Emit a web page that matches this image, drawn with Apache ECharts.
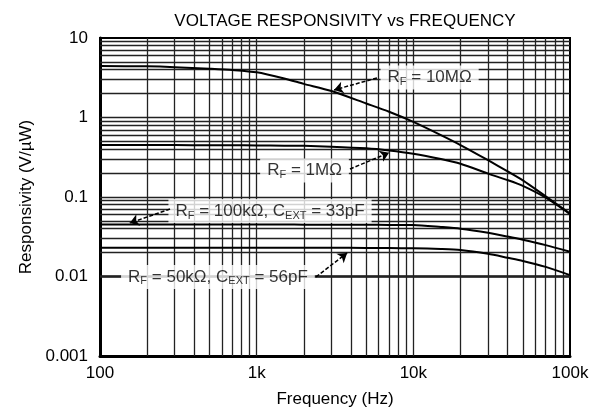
<!DOCTYPE html>
<html>
<head>
<meta charset="utf-8">
<script src="https://cdn.jsdelivr.net/npm/echarts@6/dist/echarts.min.js"></script>
<style>
  html, body { margin: 0; padding: 0; background: #fff; }
  #chart { width: 597px; height: 413px; }
</style>
</head>
<body>
<div id="chart"></div>
<script>
// Frequency samples (Hz) shared by all responsivity curves
const freqHz = [100, 200, 300, 500, 700, 1000, 1500, 2000, 3000, 5000, 7000, 10000, 15000, 20000, 30000, 40000, 50000, 70000, 100000];

// Voltage responsivity (V/µW) for each feedback configuration
const rf10M  = [4.45, 4.4, 4.3, 4.1, 3.95, 3.7, 3.1, 2.65, 2.15, 1.5, 1.18, 0.88, 0.6, 0.45, 0.29, 0.21, 0.162, 0.102, 0.062];
const rf1M   = [0.45, 0.45, 0.45, 0.448, 0.447, 0.445, 0.442, 0.44, 0.43, 0.41, 0.385, 0.35, 0.3, 0.262, 0.197, 0.163, 0.138, 0.098, 0.061];
const rf100k = [0.045, 0.045, 0.045, 0.045, 0.045, 0.045, 0.045, 0.0449, 0.0448, 0.0447, 0.0446, 0.0444, 0.042, 0.040, 0.0355, 0.0318, 0.029, 0.0248, 0.0205];
const rf50k  = [0.023, 0.023, 0.023, 0.023, 0.023, 0.023, 0.023, 0.023, 0.023, 0.0229, 0.0228, 0.0226, 0.0222, 0.0216, 0.0193, 0.0172, 0.0157, 0.0132, 0.0104];

// Axis tick labels (one per decade)
const xTickLabels = ['100', '1k', '10k', '100k'];
const yTickLabels = ['0.001', '0.01', '0.1', '1', '10'];

// Log-paper grid lines (1..9 within each decade)
const xGridLines = [200, 300, 400, 500, 600, 700, 800, 900, 1000, 2000, 3000, 4000, 5000, 6000, 7000, 8000, 9000, 10000, 20000, 30000, 40000, 50000, 60000, 70000, 80000, 90000];
const yGridLines = [0.002, 0.003, 0.004, 0.005, 0.006, 0.007, 0.008, 0.009, 0.01, 0.02, 0.03, 0.04, 0.05, 0.06, 0.07, 0.08, 0.09, 0.1, 0.2, 0.3, 0.4, 0.5, 0.6, 0.7, 0.8, 0.9, 1, 2, 3, 4, 5, 6, 7, 8, 9];

// Curve callouts: text, anchor (Hz, V/µW) and leader from/to points
const calloutText = [
  '{r|R}{s|F}{r| = 10MΩ}',
  '{r|R}{s|F}{r| = 1MΩ}',
  '{r|R}{s|F}{r| = 100kΩ, C}{s|EXT}{r| = 33pF}',
  '{r|R}{s|F}{r| = 50kΩ, C}{s|EXT}{r| = 56pF}'
];
const calloutAnchor = [[12700, 3.18], [2020, 0.2154], [1217, 0.0667], [566, 0.00987]];
const leaderFrom = [[5860, 3.14], [3940, 0.225], [280, 0.0706], [2390, 0.00987]];
const leaderTo   = [[3120, 2.22], [7000, 0.36], [155, 0.0471], [3780, 0.0198]];

const FONT = '"Liberation Sans", Arial, Helvetica, sans-serif';
const ink = '#000';

const zip = (xs, ys) => xs.map((x, i) => [x, ys[i]]);

const curve = (name, values) => ({
  name,
  type: 'line',
  data: zip(freqHz, values),
  smooth: 0.25,
  symbol: 'none',
  z: 6,
  lineStyle: { color: ink, width: 2 },
  silent: true,
  animation: false
});

const gridLineStyle = { color: '#222', width: 1.3, type: 'solid' };

const chart = echarts.init(document.getElementById('chart'), null, { renderer: 'canvas' });

chart.setOption({
  backgroundColor: '#fff',
  animation: false,
  title: {
    text: 'VOLTAGE RESPONSIVITY vs FREQUENCY',
    left: 340,
    top: 8,
    textAlign: 'center',
    textStyle: { fontFamily: FONT, fontSize: 17, fontWeight: 'normal', color: ink }
  },
  grid: {
    left: 100, right: 27, top: 38, bottom: 57,
    show: true, borderColor: ink, borderWidth: 2, backgroundColor: '#fff'
  },
  xAxis: {
    type: 'log',
    logBase: 10,
    min: 100,
    max: 100000,
    name: 'Frequency (Hz)',
    nameLocation: 'middle',
    nameGap: 35,
    nameTextStyle: { fontFamily: FONT, fontSize: 17, color: ink },
    axisLine: { show: true, onZero: false, lineStyle: { color: ink, width: 3 } },
    axisTick: { show: false },
    splitLine: { show: false },
    axisLabel: {
      fontFamily: FONT, fontSize: 17, color: ink, margin: 9,
      formatter: v => xTickLabels[Math.round(Math.log10(v)) - 2]
    }
  },
  yAxis: {
    type: 'log',
    logBase: 10,
    min: 0.001,
    max: 10,
    name: 'Responsivity (V/µW)',
    nameLocation: 'middle',
    nameGap: 62,
    nameRotate: 90,
    nameTextStyle: { fontFamily: FONT, fontSize: 17, color: ink },
    axisLine: { show: true, onZero: false, lineStyle: { color: ink, width: 3 } },
    axisTick: { show: false },
    splitLine: { show: false },
    axisLabel: {
      fontFamily: FONT, fontSize: 17, color: ink, margin: 12,
      formatter: v => yTickLabels[Math.round(Math.log10(v)) + 3]
    }
  },
  series: [
    {
      name: 'grid',
      type: 'line',
      data: [],
      z: 1,
      silent: true,
      markLine: {
        z: 1,
        silent: true,
        symbol: 'none',
        label: { show: false },
        lineStyle: gridLineStyle,
        animation: false,
        data: [
          ...xGridLines.map(v => ({ xAxis: v })),
          ...yGridLines.map(v => ({ yAxis: v }))
        ]
      }
    },
    curve('RF = 10MΩ', rf10M),
    curve('RF = 1MΩ', rf1M),
    curve('RF = 100kΩ, CEXT = 33pF', rf100k),
    curve('RF = 50kΩ, CEXT = 56pF', rf50k),
    {
      name: 'callouts',
      type: 'scatter',
      z: 4,
      silent: true,
      symbol: 'circle',
      symbolSize: 1,
      itemStyle: { color: 'rgba(255,255,255,0)' },
      data: calloutAnchor.map((p, i) => ({
        value: p,
        label: {
          show: true,
          position: 'inside',
          align: 'center',
          verticalAlign: 'middle',
          color: ink,
          textBorderWidth: 0,
          backgroundColor: '#fff',
          padding: [2, 7, 2, 7],
          formatter: calloutText[i],
          rich: {
            r: { fontFamily: FONT, fontSize: 17, color: ink, lineHeight: 20, textBorderWidth: 0 },
            s: { fontFamily: FONT, fontSize: 11, color: ink, lineHeight: 10, verticalAlign: 'bottom', textBorderWidth: 0 }
          }
        }
      })),
      labelLayout: { hideOverlap: false },
      markLine: {
        z: 5,
        silent: true,
        symbol: ['none', 'arrow'],
        symbolSize: 9,
        label: { show: false },
        lineStyle: { color: ink, width: 1.5, type: [4, 2] },
        itemStyle: { color: ink },
        animation: false,
        data: leaderFrom.map((p, i) => [{ coord: p }, { coord: leaderTo[i] }])
      }
    }
  ]
});
</script>
</body>
</html>
